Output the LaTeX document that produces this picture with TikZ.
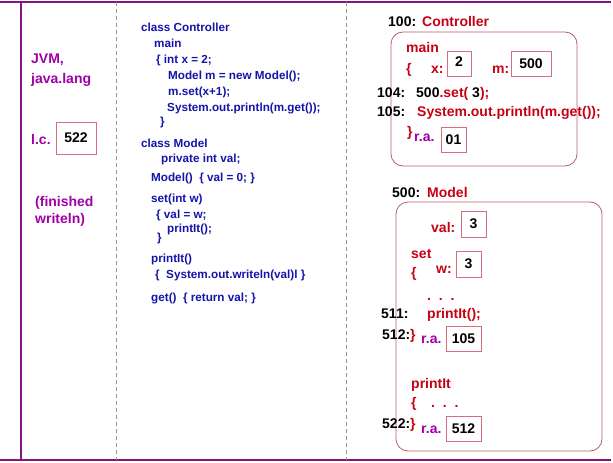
\documentclass[tikz,border=0pt]{standalone}
\usepackage{fontspec}
\setmainfont{Liberation Sans}
\definecolor{rulec}{RGB}{128,20,128}
\definecolor{jvmc}{RGB}{160,0,170}
\definecolor{codec}{RGB}{20,20,170}
\definecolor{redc}{RGB}{200,0,20}
\definecolor{boxc}{RGB}{215,110,125}
\definecolor{framec}{RGB}{185,95,105}
\definecolor{dashc}{RGB}{150,150,150}
\begin{document}
\begin{tikzpicture}[x=1pt,y=-1pt,
  txt/.style={anchor=base west, inner sep=0pt, font=\bfseries\fontsize{14}{16}\selectfont},
  jvm/.style={txt, text=jvmc},
  code/.style={txt, text=codec, font=\bfseries\fontsize{11.7}{13}\selectfont},
  red/.style={txt, text=redc},
  blk/.style={txt, text=black},
  valbox/.style={draw=boxc, line width=0.8pt, inner sep=0pt, text=black,
    font=\bfseries\fontsize{14}{16}\selectfont},
  frame/.style={draw=framec, line width=0.8pt, rounded corners=12pt},
  rule/.style={draw=rulec, line width=1.1pt},
  sep/.style={draw=dashc, line width=0.6pt, dash pattern=on 4pt off 3pt}]
\useasboundingbox (0,0) rectangle (613,463);
\fill[white] (0,0) rectangle (613,463);

% page rules and column separators
\coordinate (tl) at (0,2);   \coordinate (tr) at (611,2);
\coordinate (bl) at (0,460); \coordinate (br) at (611,460);
\coordinate (lt) at (21,2);  \coordinate (lb) at (21,460);
\coordinate (d1t) at (116,2); \coordinate (d1b) at (116,460);
\coordinate (d2t) at (346,2); \coordinate (d2b) at (346,460);
\draw[rule] (tl) -- (tr);
\draw[rule] (bl) -- (br);
\draw[rule] (lt) -- (lb);
\draw[sep] (d1t) -- (d1b);
\draw[sep] (d2t) -- (d2b);

% JVM column
\node[jvm] (jvm1) at (31,63) {JVM,};
\node[jvm] (jvm2) at (31,83) {java.lang};
\node[jvm] (lc) at (31,144) {l.c.};
\node[valbox, minimum width=40pt, minimum height=32pt] (lcbox) at (76,138) {522};
\node[jvm] (fin1) at (35,206) {(finished};
\node[jvm] (fin2) at (35,223) {writeln)};

% source code column
\node[code] (c1) at (141,31) {class Controller};
\node[code] (c2) at (154,47) {main};
\node[code] (c3) at (156,63) {\{ int x = 2;};
\node[code] (c4) at (168,79) {Model m = new Model();};
\node[code] (c5) at (168,95) {m.set(x+1);};
\node[code] (c6) at (167,111) {System.out.println(m.get());};
\node[code] (c7) at (160,125) {\}};
\node[code] (c8) at (141,147) {class Model};
\node[code] (c9) at (161,162) {private int val;};
\node[code] (c10) at (151,181) {Model()\ \ \{ val = 0; \}};
\node[code] (c11) at (151,202) {set(int w)};
\node[code] (c12) at (156,218) {\{ val = w;};
\node[code] (c13) at (167,232) {printIt();};
\node[code] (c14) at (157,241) {\}};
\node[code] (c15) at (151,262) {printIt()};
\node[code] (c16) at (155,278) {\{\ \ System.out.writeln(val)l \}};
\node[code] (c17) at (151,301) {get()\ \ \{ return val; \}};

% Controller object
\node[blk] (a100) at (388,27) {100:};
\node[red] (ctl) at (422,27) {Controller};
\draw[frame] (391,32) rectangle (577,166);
\node[red] (mmain) at (406,52) {main};
\node[red] (mbr) at (406,73) {\{};
\node[red] (xl) at (431,73) {x:};
\node[valbox, minimum width=24pt, minimum height=25pt] (xbox) at (459,63.5) {\raisebox{3pt}{2}};
\node[red] (ml) at (492,73) {m:};
\node[valbox, minimum width=40pt, minimum height=25pt] (mbox) at (531,63.5) {500};
\node[blk] (a104) at (377,97) {104:};
\node[txt] (s104) at (416,97) {500\textcolor{redc}{.set(}\ 3\textcolor{redc}{);}};
\node[blk] (a105) at (377,116) {105:};
\node[red] (s105) at (417,116) {System.out.println(m.get());};
\node[red] (mend) at (407,136) {\}};
\node[jvm] (ra1) at (414,141) {r.a.};
\node[valbox, minimum width=25pt, minimum height=25pt] (rabox1) at (453.5,139.5) {01};

% Model object
\node[blk] (a500) at (392,197) {500:};
\node[red] (mdl) at (427,197) {Model};
\draw[frame] (396,202) rectangle (602,451);
\node[red] (vall) at (431,232) {val:};
\node[valbox, minimum width=25pt, minimum height=26pt] (valbox) at (473.5,224) {3};
\node[red] (setl) at (411,258) {set};
\node[red] (setbr) at (411,277) {\{};
\node[red] (wl) at (436,273) {w:};
\node[valbox, minimum width=25pt, minimum height=26pt] (wbox) at (468.5,264) {3};
\node[red] (dots1) at (427,300) {.\ \ .\ \ .};
\node[blk] (a511) at (381,318) {511:};
\node[red] (pcall) at (427,318) {printIt();};
\node[blk] (a512) at (382,339) {512:\textcolor{redc}{\}}};
\node[jvm] (ra2) at (421,343) {r.a.};
\node[valbox, minimum width=35pt, minimum height=25pt] (rabox2) at (463.5,338.5) {105};
\node[red] (prl) at (411,388) {printIt};
\node[red] (prbr) at (411,407) {\{};
\node[red] (dots2) at (431,407) {.\ \ .\ \ .};
\node[blk] (a522) at (382,428) {522:\textcolor{redc}{\}}};
\node[jvm] (ra3) at (421,433) {r.a.};
\node[valbox, minimum width=35pt, minimum height=25pt] (rabox3) at (463.5,428.5) {512};
\end{tikzpicture}
\end{document}
